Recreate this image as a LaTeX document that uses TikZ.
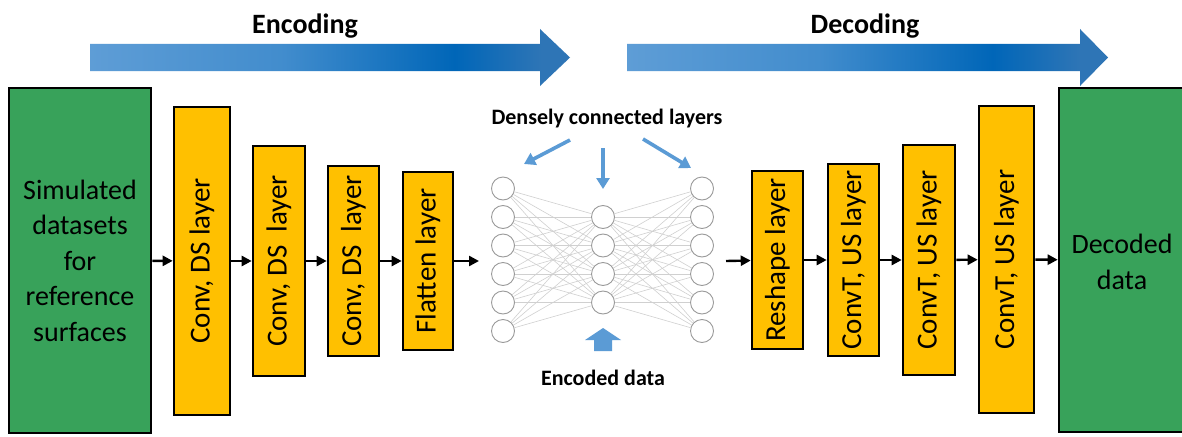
\documentclass[tikz,border=0pt]{standalone}
\usepackage{fontspec}
\setmainfont{Carlito}
\usetikzlibrary{arrows.meta}

\definecolor{boxgreen}{HTML}{38A25A}
\definecolor{layeryellow}{HTML}{FFC000}
\definecolor{skyblue}{HTML}{5B9BD5}
\definecolor{nngray}{HTML}{9A9A9A}
\definecolor{linkgray}{HTML}{D0D0D0}
\definecolor{gradA}{HTML}{5E9DD6}
\definecolor{gradB}{HTML}{0066B8}
\definecolor{gradC}{HTML}{2E75B6}

% left-to-right blue ramp for the two process arrows (path box maps to 25bp..75bp)
\pgfdeclarehorizontalshading{flowshade}{100bp}{color(0bp)=(gradA); color(25bp)=(gradA); color(45bp)=(gradA!70!gradB); color(63bp)=(gradB); color(72bp)=(gradC); color(100bp)=(gradC)}

\begin{document}
\begin{tikzpicture}[x=1pt,y=-1pt,
  layerbox/.style={draw=black, line width=2.6pt, fill=layeryellow, rotate=90,
    inner sep=0pt, font=\fontsize{29}{30}\selectfont},
  databox/.style={draw=black, line width=2.6pt, fill=boxgreen, inner sep=0pt,
    align=center, font=\fontsize{28}{35.5}\selectfont},
  flow/.style={line width=2.4pt, -{Triangle[length=10pt,width=10pt]}},
  neuron/.style={circle, draw=nngray, line width=0.9pt, fill=white,
    minimum size=23pt, inner sep=0pt},
  link/.style={draw=linkgray, line width=0.6pt},
  hint/.style={draw=skyblue, line width=3.6pt, -{Triangle[length=11pt,width=13pt]}},
  stagetitle/.style={font=\bfseries\fontsize{28}{30}\selectfont},
  caption/.style={font=\bfseries\fontsize{22}{24}\selectfont}]

\useasboundingbox (0,0) rectangle (1182,436);
\fill[white] (0,0) rectangle (1182,436);
\clip (0,0) rectangle (1182,436);

% stage arrows
\shade[shading=flowshade] (90,44) -- (540,44) -- (540,29) -- (570,57.5)
  -- (540,86) -- (540,71) -- (90,71) -- cycle;
\shade[shading=flowshade] (627,44) -- (1080,44) -- (1080,29) -- (1108,57.5)
  -- (1080,86) -- (1080,71) -- (627,71) -- cycle;
\node[stagetitle] (enc) at (305,26) {Encoding};
\node[stagetitle] (dec) at (865,26) {Decoding};

% input data and encoder layers
\node[databox, minimum width=142pt, minimum height=345pt] (input) at (80,260.5)
  {Simulated\\datasets\\for\\reference\\surfaces};
\node[layerbox, minimum width=308pt, minimum height=56pt] (c1) at (202,261) {Conv, DS layer};
\node[layerbox, minimum width=230pt, minimum height=52pt] (c2) at (279,261) {Conv, DS\ \ layer};
\node[layerbox, minimum width=190pt, minimum height=51pt] (c3) at (353.5,261) {Conv, DS\ \ layer};
\node[layerbox, minimum width=178pt, minimum height=50pt] (fl) at (428,261) {Flatten layer};

% dense layers
\foreach \i in {0,...,5} {
  \node[neuron] (a\i) at (503,{188.5+28.5*\i}) {};
  \node[neuron] (o\i) at (702,{188.5+28.5*\i}) {};
}
\foreach \j in {0,...,3} {
  \node[neuron] (m\j) at (603,{217+28.5*\j}) {};
}
\foreach \i in {0,...,5} {
  \foreach \j in {0,...,3} {
    \draw[link] (a\i) -- (m\j);
    \draw[link] (m\j) -- (o\i);
  }
}

% decoder layers and output data
\node[layerbox, minimum width=178pt, minimum height=51pt] (rs) at (777.5,260) {Reshape layer};
\node[layerbox, minimum width=192pt, minimum height=51pt] (t1) at (853.5,260) {ConvT, US layer};
\node[layerbox, minimum width=230pt, minimum height=52pt] (t2) at (929,260) {ConvT, US layer};
\node[layerbox, minimum width=307pt, minimum height=55pt] (t3) at (1006.5,259.5) {ConvT, US layer};
\node[databox, minimum width=140pt, minimum height=344pt] (output) at (1129,260) {};
\node[font=\fontsize{28}{35.5}\selectfont, align=center] (outtext) at (1122,262) {Decoded\\data};

% data flow
\coordinate (nnin) at (479,261);
\coordinate (nnout) at (726,261);
\draw[flow] (input) -- (c1);
\draw[flow] (c1) -- (c2);
\draw[flow] (c2) -- (c3);
\draw[flow] (c3) -- (fl);
\draw[flow] (fl) -- (nnin);
\draw[flow] (nnout) -- (rs);
\draw[flow] (rs) -- (t1);
\draw[flow] (t1) -- (t2);
\draw[flow] (t2) -- (t3);
\draw[flow] (t3) -- (output);

% annotations of the dense part
\node[caption] (dense) at (607,119) {Densely connected layers};
\coordinate (hl0) at (570,140);
\coordinate (hl1) at (524,164);
\coordinate (hm0) at (603,148);
\coordinate (hm1) at (603,189);
\coordinate (hr0) at (643,139);
\coordinate (hr1) at (691,168);
\draw[hint] (hl0) -- (hl1);
\draw[hint] (hm0) -- (hm1);
\draw[hint] (hr0) -- (hr1);

\fill[skyblue] (594,351) -- (594,340) -- (585,340) -- (603,328) -- (621,340)
  -- (612,340) -- (612,351) -- cycle;
\node[caption] (code) at (603,378) {Encoded data};
\end{tikzpicture}
\end{document}
